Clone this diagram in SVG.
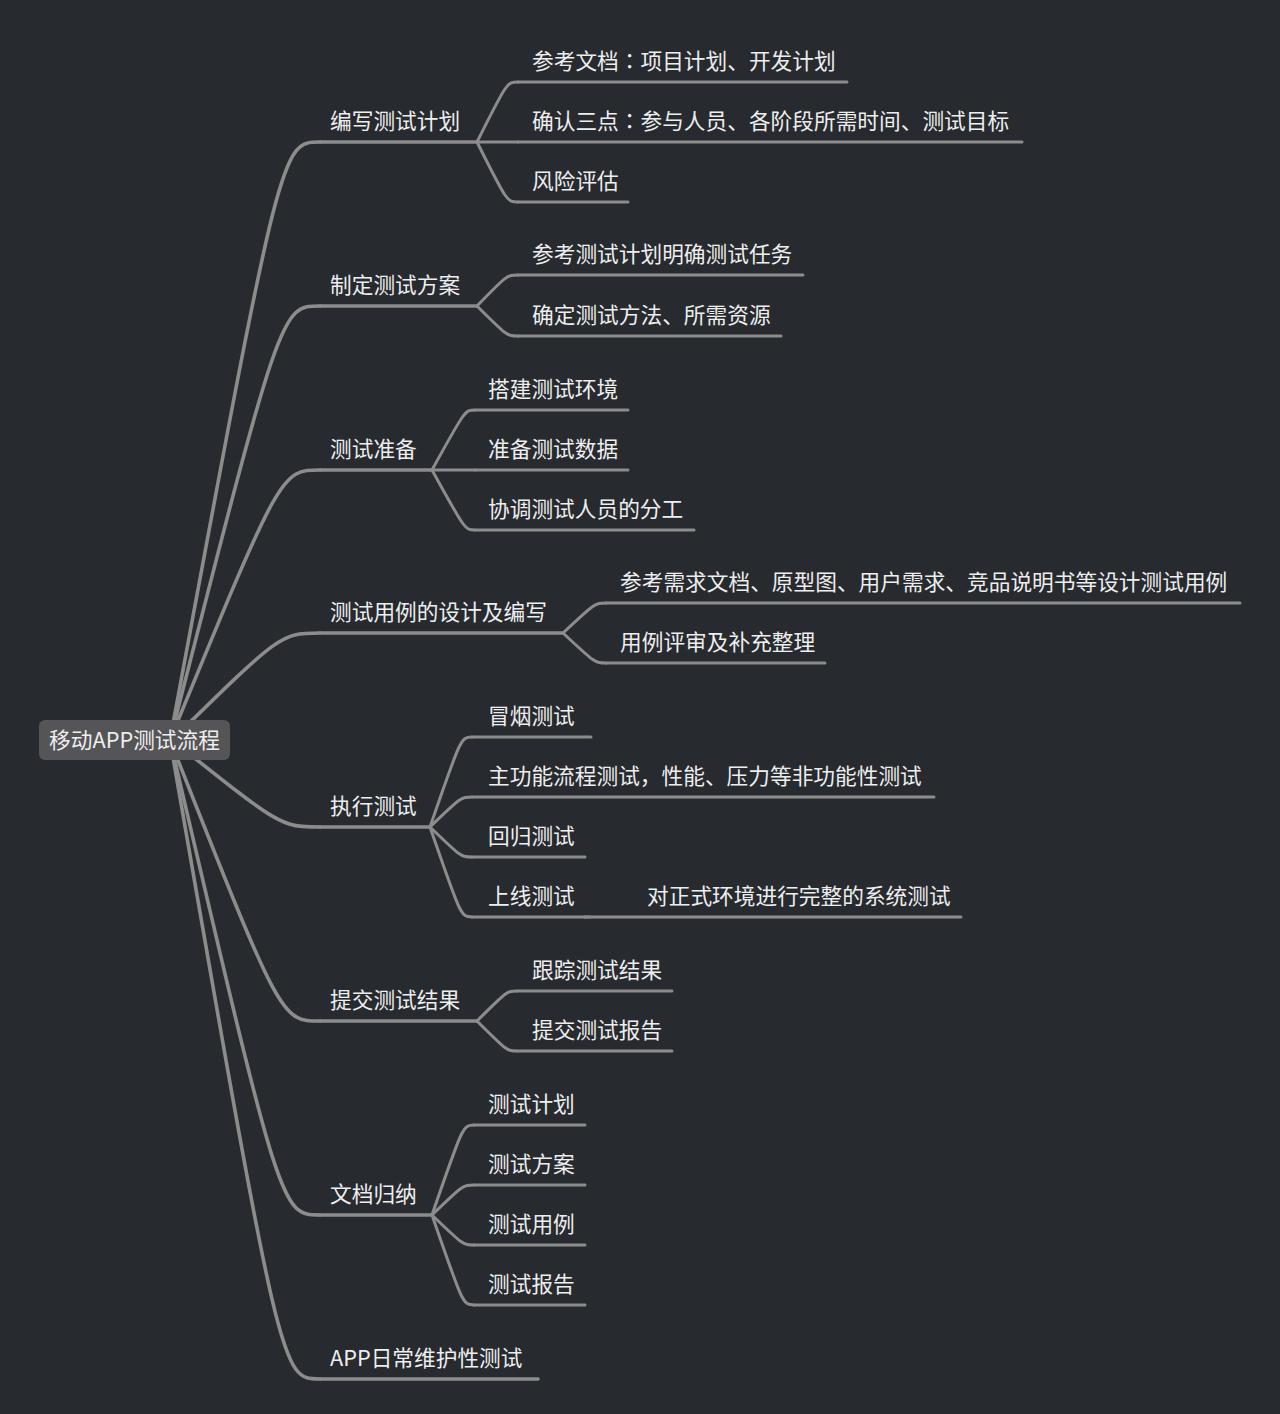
<svg xmlns="http://www.w3.org/2000/svg" width="1280" height="1414" viewBox="0 0 1280 1414">
<style>
text{font-family:"Noto Sans CJK SC","Noto Sans",sans-serif;font-size:21.7px;fill:#eeeeee}
.p{font-family:"Noto Sans CJK TC","Noto Sans CJK SC",sans-serif}
.c{fill:none;stroke:#8c8c8c;stroke-width:3;stroke-linecap:round}
.r{fill:none;stroke:#8c8c8c;stroke-width:3.6;stroke-linecap:round}
.u{stroke:#8c8c8c;stroke-width:3;stroke-linecap:round}
.u1{stroke:#8c8c8c;stroke-width:3.6;stroke-linecap:round}
</style>
<rect x="0" y="0" width="1280" height="1414" fill="#272a2f"/>
<g id="connectors">
<path class="r" d="M170 740 C281 142 281 142 320 142"/>
<path class="r" d="M170 740 C281 306 281 306 320 306"/>
<path class="r" d="M170 740 C281 470 281 470 320 470"/>
<path class="r" d="M172 740 C281 633 281 633 320 633"/>
<path class="r" d="M172 740 C281 827 281 827 320 827"/>
<path class="r" d="M170 740 C281 1021 281 1021 320 1021"/>
<path class="r" d="M170 740 C281 1215 281 1215 320 1215"/>
<path class="r" d="M170 740 C281 1379 281 1379 320 1379"/>
<path class="c" d="M477 142 C507 82 507 82 518 82"/>
<path class="c" d="M477 142 L518 142"/>
<path class="c" d="M477 142 C507 202 507 202 518 202"/>
<path class="c" d="M477 306 C507 275 507 275 518 275"/>
<path class="c" d="M477 306 C507 336 507 336 518 336"/>
<path class="c" d="M432 470 C465 410 465 410 475 410"/>
<path class="c" d="M432 470 L475 470"/>
<path class="c" d="M432 470 C465 530 465 530 475 530"/>
<path class="c" d="M563 633 C595 603 595 603 606 603"/>
<path class="c" d="M563 633 C595 663 595 663 606 663"/>
<path class="c" d="M430 827 C461 737 461 737 472 737"/>
<path class="c" d="M430 827 C461 797 461 797 472 797"/>
<path class="c" d="M430 827 C461 857 461 857 472 857"/>
<path class="c" d="M430 827 C461 917 461 917 472 917"/>
<path class="c" d="M477 1021 C507 991 507 991 517 991"/>
<path class="c" d="M477 1021 C507 1051 507 1051 517 1051"/>
<path class="c" d="M432 1215 C463 1125 463 1125 474 1125"/>
<path class="c" d="M432 1215 C463 1185 463 1185 474 1185"/>
<path class="c" d="M432 1215 C463 1245 463 1245 474 1245"/>
<path class="c" d="M432 1215 C463 1305 463 1305 474 1305"/>
<path class="c" d="M585 917 L590 917"/>
</g>
<g id="root">
<rect x="39" y="720" width="191" height="40" rx="6" fill="#555457"/>
<text x="134.5" y="748" text-anchor="middle">移动APP测试流程</text>
</g>
<g id="n1"><line class="u1" x1="320" y1="142" x2="477" y2="142"/><text x="330" y="129">编写测试计划</text></g>
<g id="n1a"><line class="u" x1="518" y1="82" x2="847" y2="82"/><text x="532" y="69">参考文档<tspan class="p">：</tspan>项目计划、开发计划</text></g>
<g id="n1b"><line class="u" x1="518" y1="142" x2="1022" y2="142"/><text x="532" y="129">确认三点<tspan class="p">：</tspan>参与人员、各阶段所需时间、测试目标</text></g>
<g id="n1c"><line class="u" x1="518" y1="202" x2="628" y2="202"/><text x="532" y="189">风险评估</text></g>
<g id="n2"><line class="u1" x1="320" y1="306" x2="477" y2="306"/><text x="330" y="293">制定测试方案</text></g>
<g id="n2a"><line class="u" x1="518" y1="275" x2="803" y2="275"/><text x="532" y="262">参考测试计划明确测试任务</text></g>
<g id="n2b"><line class="u" x1="518" y1="336" x2="781" y2="336"/><text x="532" y="323">确定测试方法、所需资源</text></g>
<g id="n3"><line class="u1" x1="320" y1="470" x2="432" y2="470"/><text x="330" y="457">测试准备</text></g>
<g id="n3a"><line class="u" x1="475" y1="410" x2="628" y2="410"/><text x="488" y="397">搭建测试环境</text></g>
<g id="n3b"><line class="u" x1="475" y1="470" x2="628" y2="470"/><text x="488" y="457">准备测试数据</text></g>
<g id="n3c"><line class="u" x1="475" y1="530" x2="694" y2="530"/><text x="488" y="517">协调测试人员的分工</text></g>
<g id="n4"><line class="u1" x1="320" y1="633" x2="563" y2="633"/><text x="330" y="620">测试用例的设计及编写</text></g>
<g id="n4a"><line class="u" x1="606" y1="603" x2="1240" y2="603"/><text x="620" y="590">参考需求文档、原型图、用户需求、竞品说明书等设计测试用例</text></g>
<g id="n4b"><line class="u" x1="606" y1="663" x2="825" y2="663"/><text x="620" y="650">用例评审及补充整理</text></g>
<g id="n5"><line class="u1" x1="320" y1="827" x2="430" y2="827"/><text x="330" y="814">执行测试</text></g>
<g id="n5a"><line class="u" x1="472" y1="737" x2="591" y2="737"/><text x="488" y="724">冒烟测试</text></g>
<g id="n5b"><line class="u" x1="472" y1="797" x2="934" y2="797"/><text x="488" y="784">主功能流程测试，性能、压力等非功能性测试</text></g>
<g id="n5c"><line class="u" x1="472" y1="857" x2="585" y2="857"/><text x="488" y="844">回归测试</text></g>
<g id="n5d"><line class="u" x1="472" y1="917" x2="585" y2="917"/><text x="488" y="904">上线测试</text></g>
<g id="n5d1"><line class="u" x1="585" y1="917" x2="961" y2="917"/><text x="647" y="904">对正式环境进行完整的系统测试</text></g>
<g id="n6"><line class="u1" x1="320" y1="1021" x2="477" y2="1021"/><text x="330" y="1008">提交测试结果</text></g>
<g id="n6a"><line class="u" x1="517" y1="991" x2="672" y2="991"/><text x="532" y="978">跟踪测试结果</text></g>
<g id="n6b"><line class="u" x1="517" y1="1051" x2="672" y2="1051"/><text x="532" y="1038">提交测试报告</text></g>
<g id="n7"><line class="u1" x1="320" y1="1215" x2="432" y2="1215"/><text x="330" y="1202">文档归纳</text></g>
<g id="n7a"><line class="u" x1="474" y1="1125" x2="585" y2="1125"/><text x="488" y="1112">测试计划</text></g>
<g id="n7b"><line class="u" x1="474" y1="1185" x2="585" y2="1185"/><text x="488" y="1172">测试方案</text></g>
<g id="n7c"><line class="u" x1="474" y1="1245" x2="585" y2="1245"/><text x="488" y="1232">测试用例</text></g>
<g id="n7d"><line class="u" x1="474" y1="1305" x2="585" y2="1305"/><text x="488" y="1292">测试报告</text></g>
<g id="n8"><line class="u1" x1="320" y1="1379" x2="538" y2="1379"/><text x="330" y="1366">APP日常维护性测试</text></g>
</svg>
